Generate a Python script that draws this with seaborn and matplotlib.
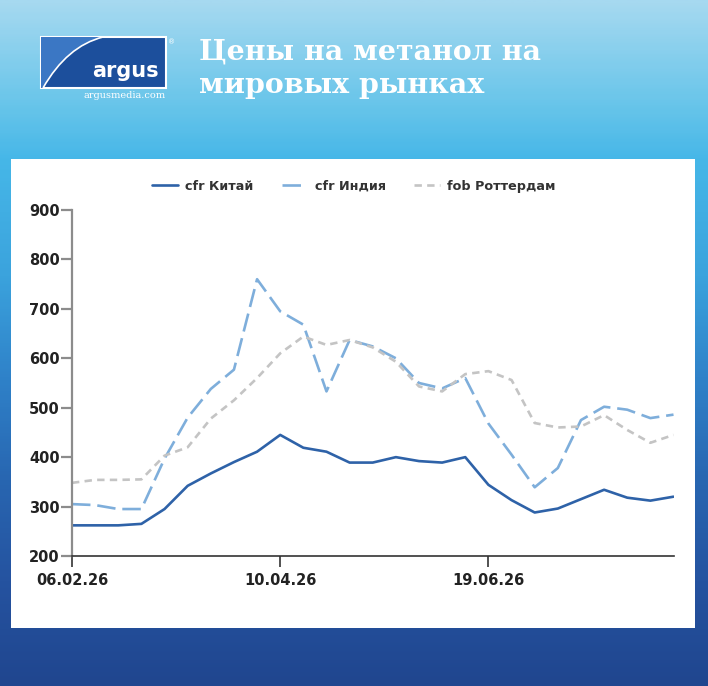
import numpy as np
import pandas as pd
import matplotlib
matplotlib.use('Agg')
import matplotlib.pyplot as plt
import seaborn as sns
from matplotlib.colors import LinearSegmentedColormap
from matplotlib.patches import Rectangle, PathPatch
from matplotlib.path import Path

# Данные, недели
china = [262, 262, 262, 265, 295, 342, 367, 390, 411, 445, 419, 411, 389, 389,
         400, 392, 389, 400, 344, 313, 288, 296, 315, 334, 318, 312, 320]
india = [305, 303, 295, 295, 397, 480, 538, 577, 760, 695, 668, 533, 637, 624,
         600, 550, 539, 560, 468, 405, 339, 378, 475, 502, 496, 479, 486]
rotterdam = [348, 354, 354, 355, 403, 420, 478, 515, 560, 610, 644, 627, 637, 622,
             593, 543, 533, 568, 574, 556, 469, 460, 462, 485, 455, 429, 445]
series_names = ['cfr Китай', 'cfr Индия', 'fob Роттердам']
tick_pos = [0, 9, 18]
tick_labels = ['06.02.26', '10.04.26', '19.06.26']
y_ticks = [200, 300, 400, 500, 600, 700, 800, 900]
title_lines = ['Цены на метанол на', 'мировых рынках']

df = pd.DataFrame({'week': np.arange(len(china)), 'china': china,
                   'india': india, 'rotterdam': rotterdam})

sns.set_style('white')
plt.rcParams['font.family'] = ['DejaVu Sans']

W, H = 708, 686
fig = plt.figure(figsize=(W / 100, H / 100), dpi=100)

# фон - градиент
bg = fig.add_axes([0, 0, 1, 1])
cmap = LinearSegmentedColormap.from_list('bg', [
    (0.0, '#a6d9f0'), (0.15, '#68c5ea'), (0.23, '#46b7e8'), (0.4, '#3ba3dd'),
    (0.55, '#2f82c9'), (0.7, '#2866b1'), (0.85, '#2553a0'), (1.0, '#20468f')])
grad = np.linspace(0, 1, 300).reshape(-1, 1)
bg.imshow(grad, cmap=cmap, aspect='auto', extent=[0, W, H, 0])
bg.set_xlim(0, W)
bg.set_ylim(H, 0)
bg.axis('off')

# белая панель
bg.add_patch(Rectangle((11, 159), 684, 469, facecolor='white', edgecolor='none'))

# логотип
bg.add_patch(Rectangle((41, 37), 125, 51, facecolor='#1c4f9c', edgecolor='white', lw=1.5))
light = Path([(41, 88), (43, 88), (67, 46), (103, 37), (41, 37), (41, 88)],
             [Path.MOVETO, Path.LINETO, Path.CURVE3, Path.CURVE3, Path.LINETO, Path.CLOSEPOLY])
bg.add_patch(PathPatch(light, facecolor='#3b77c4', edgecolor='none'))
arc = Path([(43, 88), (67, 46), (103, 37)], [Path.MOVETO, Path.CURVE3, Path.CURVE3])
bg.add_patch(PathPatch(arc, facecolor='none', edgecolor='white', lw=1.2))
bg.text(159, 77, 'argus', color='white', fontsize=15, fontweight='bold', ha='right', va='baseline')
bg.text(125, 98, 'argusmedia.com', color='white', fontsize=7, family='DejaVu Serif',
        ha='center', va='baseline')
bg.text(168, 42, '®', color='white', fontsize=5, ha='left', va='center')

# заголовок
bg.text(199, 59, title_lines[0], color='white', fontsize=20.5, fontweight='bold',
        family='DejaVu Serif', ha='left', va='baseline')
bg.text(199, 93, title_lines[1], color='white', fontsize=20.5, fontweight='bold',
        family='DejaVu Serif', ha='left', va='baseline')

# график
ax = fig.add_axes([72 / W, 1 - 556 / H, (673.5 - 72) / W, (556 - 210) / H])
ax.patch.set_visible(False)
lw = 1.9
sns.lineplot(data=df, x='week', y='china', ax=ax, color='#2e62a8', lw=lw, label=series_names[0])
sns.lineplot(data=df, x='week', y='india', ax=ax, color='#7eaedb', lw=lw, label=series_names[1])
sns.lineplot(data=df, x='week', y='rotterdam', ax=ax, color='#c4c4c4', lw=lw, label=series_names[2])
ax.lines[1].set_dashes((7, 2.6))
ax.lines[2].set_dashes((2.8, 2))

ax.set_xlim(0, len(china) - 1)
ax.set_ylim(200, 900)
ax.set_xticks(tick_pos)
ax.set_xticklabels(tick_labels)
ax.set_yticks(y_ticks)
ax.set_xlabel('')
ax.set_ylabel('')
for s in ['top', 'right']:
    ax.spines[s].set_visible(False)
ax.spines['left'].set_color('#8c8c8c')
ax.spines['left'].set_linewidth(1.6)
ax.spines['bottom'].set_color('#333333')
ax.spines['bottom'].set_linewidth(1.2)
ax.tick_params(axis='y', direction='out', length=8, width=1.6, color='#8c8c8c',
               pad=1, labelsize=10.5, labelcolor='#222222', left=True)
ax.tick_params(axis='x', direction='out', length=8, width=1.2, color='#333333',
               pad=4, labelsize=10.5, labelcolor='#222222', bottom=True)
for t in ax.get_xticklabels() + ax.get_yticklabels():
    t.set_fontweight('bold')

leg = ax.legend(loc='center', bbox_to_anchor=(354 / W, 1 - 186 / H),
                bbox_transform=fig.transFigure, ncol=3, frameon=False,
                handlelength=2.0, handletextpad=0.6, columnspacing=2.2,
                prop={'size': 9.2, 'weight': 'bold'})
for t in leg.get_texts():
    t.set_color('#333333')

fig.savefig('out.png', dpi=100)
